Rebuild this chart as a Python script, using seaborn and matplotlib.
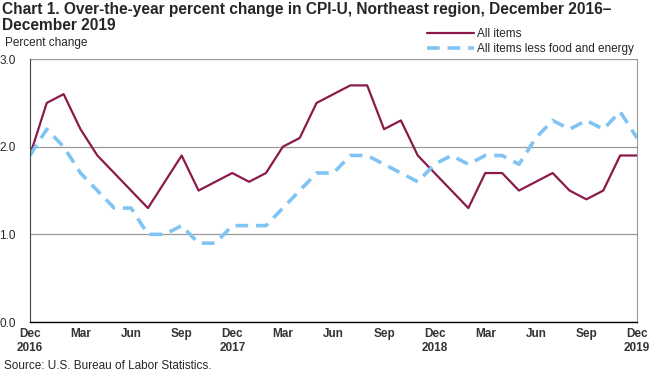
import pandas as pd
import seaborn as sns
import matplotlib
matplotlib.use('Agg')
import matplotlib.pyplot as plt
from matplotlib.lines import Line2D

# Monthly values, Dec 2016 - Dec 2019
months = ['Dec', 'Jan', 'Feb', 'Mar', 'Apr', 'May', 'Jun', 'Jul', 'Aug', 'Sep', 'Oct', 'Nov'] * 3 + ['Dec']
all_items = [1.9, 2.5, 2.6, 2.2, 1.9, 1.7, 1.5, 1.3, 1.6, 1.9, 1.5, 1.6,
             1.7, 1.6, 1.7, 2.0, 2.1, 2.5, 2.6, 2.7, 2.7, 2.2, 2.3, 1.9,
             1.7, 1.5, 1.3, 1.7, 1.7, 1.5, 1.6, 1.7, 1.5, 1.4, 1.5, 1.9,
             1.9]
core = [1.9, 2.2, 2.0, 1.7, 1.5, 1.3, 1.3, 1.0, 1.0, 1.1, 0.9, 0.9,
        1.1, 1.1, 1.1, 1.3, 1.5, 1.7, 1.7, 1.9, 1.9, 1.8, 1.7, 1.6,
        1.8, 1.9, 1.8, 1.9, 1.9, 1.8, 2.1, 2.3, 2.2, 2.3, 2.2, 2.4,
        2.1]
tick_labels = ['Dec\n2016', 'Mar', 'Jun', 'Sep', 'Dec\n2017', 'Mar', 'Jun', 'Sep',
               'Dec\n2018', 'Mar', 'Jun', 'Sep', 'Dec\n2019']

df = pd.DataFrame({'idx': range(len(all_items)), 'All items': all_items,
                   'All items less food and energy': core})
long = df.melt(id_vars='idx', var_name='series', value_name='pct')

sns.set_style('white')
plt.rcParams['font.family'] = ['Liberation Sans', 'DejaVu Sans']

maroon = '#8B1A4B'
blue = '#80C4F4'

fig = plt.figure(figsize=(6.5, 3.74), dpi=100)
ax = fig.add_axes([0.046, 0.139, 0.934, 0.703])

sns.lineplot(data=long, x='idx', y='pct', hue='series', style='series',
             palette={'All items': maroon, 'All items less food and energy': blue},
             dashes={'All items': '', 'All items less food and energy': (3.5, 2.2)},
             ax=ax, legend=False)
lines = ax.get_lines()
lines[0].set_linewidth(1.6)
lines[1].set_linewidth(2.6)

ax.set_xlim(0, 36)
ax.set_ylim(0, 3.0)
ax.set_yticks([0, 1, 2, 3])
ax.set_yticklabels(['0.0', '1.0', '2.0', '3.0'], fontsize=8.5)
ax.set_xticks(range(0, 37, 3))
ax.set_xticklabels(tick_labels, fontsize=8.5, fontweight='bold', color='#333333')
ax.set_xticks(range(37), minor=True)
ax.tick_params(axis='x', which='both', direction='inout', length=7, width=0.8, color='black', pad=1)
ax.tick_params(axis='y', length=0, pad=10)
ax.set_xlabel('')
ax.set_ylabel('')
ax.yaxis.grid(True, color='#999999', linewidth=0.9)
ax.set_axisbelow(True)

ax.spines['top'].set_visible(False)
ax.spines['left'].set_color('#444444')
ax.spines['right'].set_color('#999999')
ax.spines['bottom'].set_color('black')
ax.spines['bottom'].set_linewidth(1.0)

# legend above the plot, right side
handles = [Line2D([], [], color=maroon, lw=1.6),
           Line2D([], [], color=blue, lw=2.6, dashes=(3.5, 2.2))]
fig.legend(handles, ['All items', 'All items less food and energy'], loc='upper right',
           bbox_to_anchor=(0.985, 0.94), frameon=False, fontsize=8.5,
           handlelength=4, handletextpad=0.3, labelspacing=0.25, borderpad=0)

# title as two separate lines
fig.text(0.003, 0.995, 'Chart 1. Over-the-year percent change in CPI-U, Northeast region, December 2016\u2013',
         fontsize=11.2, fontweight='bold', va='top', ha='left')
fig.text(0.003, 0.952, 'December 2019', fontsize=11.2, fontweight='bold', va='top', ha='left')
fig.text(0.008, 0.868, 'Percent change', fontsize=8.5, va='bottom', ha='left')
fig.text(0.006, 0.005, 'Source: U.S. Bureau of Labor Statistics.', fontsize=8.5, va='bottom', ha='left')

fig.savefig('out.png', dpi=100)
